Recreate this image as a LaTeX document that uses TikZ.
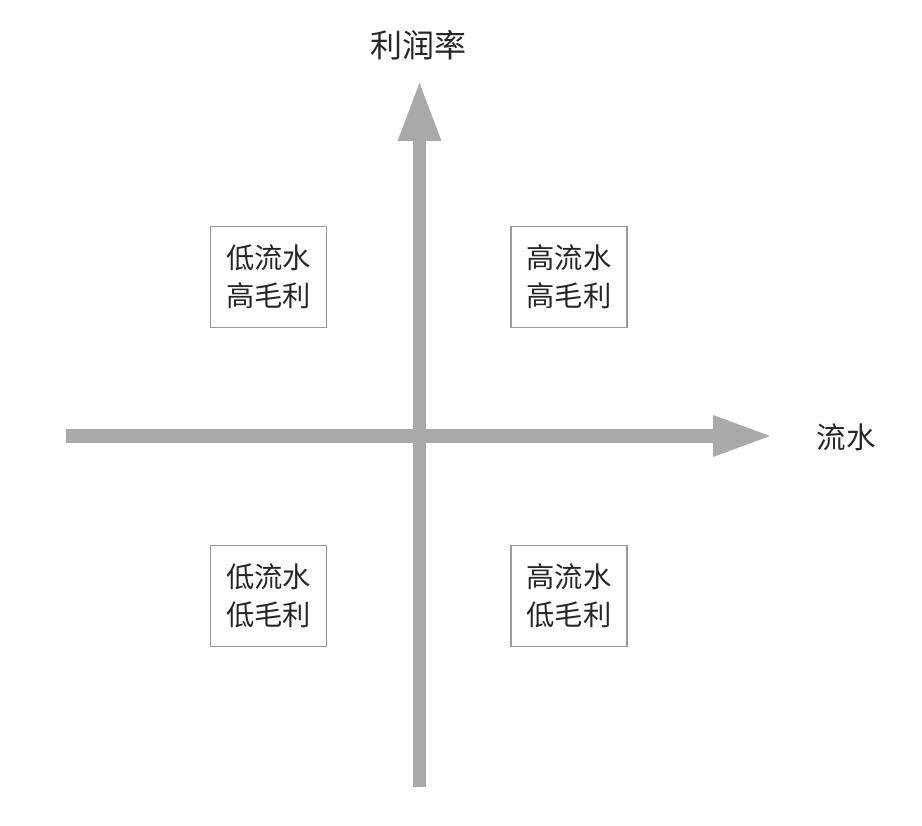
\documentclass[tikz,border=0pt]{standalone}
\usepackage{fontspec}
\newfontfamily\cjk{Noto Sans CJK SC}
\begin{document}
\begin{tikzpicture}[x=1pt,y=-1pt,
  axis/.style={draw=axisgray,line width=13.5pt},
  head/.style={fill=axisgray},
  quad/.style={draw=boxgray,line width=1.8pt,minimum width=116pt,minimum height=101pt,inner sep=0pt,align=center,font=\cjk\fontsize{28.3}{38}\selectfont,text=black!85},
  lab/.style={font=\cjk\fontsize{29.5}{34}\selectfont,text=black!85}]
\definecolor{axisgray}{HTML}{A9A9A9}
\definecolor{boxgray}{HTML}{9A9A9A}
\useasboundingbox (0,0) rectangle (922,826);
% vertical axis
\coordinate (vbot) at (419.5,787);
\coordinate (vbase) at (419.5,140);
\coordinate (vtip) at (419.5,83);
\draw[axis] (vbot) -- (vbase);
\fill[head] (397.5,141) -- (vtip) -- (441.5,141) -- cycle;
% horizontal axis
\coordinate (hleft) at (66,436);
\coordinate (hbase) at (714,436);
\coordinate (htip) at (770,436);
\draw[axis] (hleft) -- (hbase);
\fill[head] (713,415) -- (htip) -- (713,457) -- cycle;
% labels
\node[lab,font=\cjk\fontsize{32}{36}\selectfont] (ylab) at (418,45) {利润率};
\node[lab] (xlab) at (846,437) {流水};
% quadrants
\node[quad] (q2) at (268.5,277) {低流水\\高毛利};
\node[quad] (q1) at (569,277) {高流水\\高毛利};
\node[quad] (q3) at (268.5,596) {低流水\\低毛利};
\node[quad] (q4) at (569,596) {高流水\\低毛利};
\end{tikzpicture}
\end{document}
